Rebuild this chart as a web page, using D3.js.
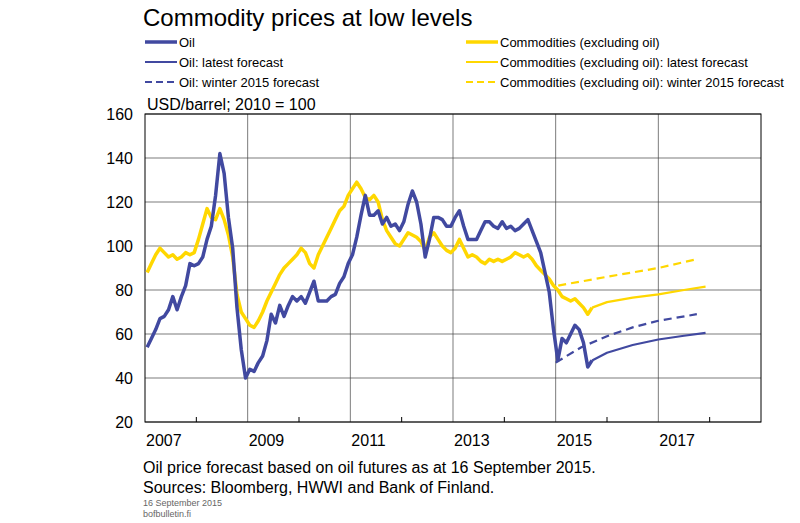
<!DOCTYPE html>
<meta charset="utf-8">
<script src="https://d3js.org/d3.v7.min.js"></script>
<style>body{margin:0;background:#fff;font-family:Arial,"Liberation Sans",sans-serif}</style>
<div id="chart"></div>
<script>
// monthly values starting January 2007
var startYear = 2007;
var oil = [54,58,62,67,68,71,77,71,77,82,92,91,
  92,95,103,109,123,142,133,113,99,72,53,40,
  44,43,47,50,57,69,65,73,68,73,77,75,
  77,74,79,84,75,75,75,77,78,83,86,92,
  96,104,114,123,114,114,116,110,113,109,110,107,
  111,119,125,120,110,95,103,113,113,112,109,109,
  113,116,109,103,103,103,107,111,111,109,108,111,
  108,109,107,108,110,112,107,102,97,88,79,62,
  48,58,56,60,64,62,56,45,48];
var commodities = [88,92,96,99,97,95,96,94,95,97,96,97,
  103,110,117,113,112,117,112,105,95,78,70,67,
  64,63,66,70,75,79,83,87,90,92,94,96,
  99,97,92,90,96,100,104,108,112,116,118,123,
  126,129,126,122,121,123,120,112,107,104,101,100,
  103,106,105,104,102,98,104,106,103,100,98,97,
  99,103,99,95,96,95,93,92,94,93,94,93,
  94,95,97,96,95,96,94,91,89,87,85,82,
  80,77,76,75,76,74,72,69,72];
var oilLatestX = [2015.71,2016.0,2016.5,2017.0,2017.5,2017.92];
var oilLatestY = [48,51.5,55,57.5,59.2,60.5];
var oilWinterX = [2015.0,2015.5,2016.0,2016.5,2017.0,2017.75];
var oilWinterY = [47,54,59,63,66,69];
var comLatestX = [2015.71,2016.0,2016.5,2017.0,2017.5,2017.92];
var comLatestY = [72,74.5,76.5,78,80,81.5];
var comWinterX = [2015.05,2016.0,2017.0,2017.75];
var comWinterY = [82,86,90,94];
var yTicks = [20,40,60,80,100,120,140,160];
var yearLabels = [2007,2009,2011,2013,2015,2017];

var blue = "#4149a0", yellow = "#ffd700";
var svg = d3.select("#chart").append("svg").attr("width",800).attr("height",523);
var x = d3.scaleLinear().domain([2007,2019]).range([145,761]);
var y = d3.scaleLinear().domain([20,160]).range([422,114]);

// grid
svg.selectAll(".hg").data(yTicks).enter().append("line")
  .attr("x1",145).attr("x2",761).attr("y1",d=>y(d)).attr("y2",d=>y(d))
  .attr("stroke","#444").attr("stroke-width",0.7);
svg.selectAll(".vg").data(d3.range(2009,2019,2)).enter().append("line")
  .attr("x1",d=>x(d)).attr("x2",d=>x(d)).attr("y1",114).attr("y2",422)
  .attr("stroke","#444").attr("stroke-width",0.7);
svg.append("rect").attr("x",145).attr("y",114).attr("width",616).attr("height",308)
  .attr("fill","none").attr("stroke","#000").attr("stroke-width",1);
svg.selectAll(".mt").data(d3.range(2008,2019,2)).enter().append("line")
  .attr("x1",d=>x(d)).attr("x2",d=>x(d)).attr("y1",422).attr("y2",417).attr("stroke","#000");

svg.selectAll(".yl").data(yTicks).enter().append("text")
  .attr("x",133).attr("y",d=>y(d)+6).attr("text-anchor","end")
  .attr("font-size",16).text(d=>d);
svg.selectAll(".xl").data(yearLabels).enter().append("text")
  .attr("x",d=>x(d)+1).attr("y",446).attr("font-size",16).text(d=>d);

var line = d3.line().x(d=>x(d[0])).y(d=>y(d[1]));
function monthly(arr){ return arr.map((v,i)=>[startYear+(i+0.5)/12,v]); }
function zip(a,b){ return a.map((v,i)=>[v,b[i]]); }

function draw(pts,col,w,dash){
  svg.append("path").datum(pts).attr("d",line).attr("fill","none")
    .attr("stroke",col).attr("stroke-width",w).attr("stroke-linejoin","round")
    .attr("stroke-dasharray",dash||null);
}
draw(monthly(commodities),yellow,3.5);
draw(zip(comWinterX,comWinterY),yellow,2.2,"8,5");
draw(zip(comLatestX,comLatestY),yellow,2.2);
draw(monthly(oil),blue,3.5);
draw(zip(oilWinterX,oilWinterY),blue,2.2,"8,5");
draw(zip(oilLatestX,oilLatestY),blue,2.2);

// title & legend
svg.append("text").attr("x",143).attr("y",26).attr("font-size",24).text("Commodity prices at low levels");
var legend = [
  {t:"Oil",c:blue,w:3.5,x:145,y:42},
  {t:"Oil: latest forecast",c:blue,w:2,x:145,y:62},
  {t:"Oil: winter 2015 forecast",c:blue,w:2,d:"7,4",x:145,y:82},
  {t:"Commodities (excluding oil)",c:yellow,w:3.5,x:466,y:42},
  {t:"Commodities (excluding oil): latest forecast",c:yellow,w:2,x:466,y:62},
  {t:"Commodities (excluding oil): winter 2015 forecast",c:yellow,w:2,d:"7,4",x:466,y:82}];
legend.forEach(function(l){
  svg.append("line").attr("x1",l.x).attr("x2",l.x+32).attr("y1",l.y).attr("y2",l.y)
    .attr("stroke",l.c).attr("stroke-width",l.w).attr("stroke-dasharray",l.d||null);
  svg.append("text").attr("x",l.x+34).attr("y",l.y+5).attr("font-size",13).text(l.t);
});
svg.append("text").attr("x",147).attr("y",110).attr("font-size",16).text("USD/barrel; 2010 = 100");
svg.append("text").attr("x",143).attr("y",473).attr("font-size",16).text("Oil price forecast based on oil futures as at 16 September 2015.");
svg.append("text").attr("x",143).attr("y",493).attr("font-size",16).text("Sources: Bloomberg, HWWI and Bank of Finland.");
svg.append("text").attr("x",143).attr("y",506).attr("font-size",9).attr("fill","#666").text("16 September 2015");
svg.append("text").attr("x",143).attr("y",517).attr("font-size",9).attr("fill","#666").text("bofbulletin.fi");
</script>
